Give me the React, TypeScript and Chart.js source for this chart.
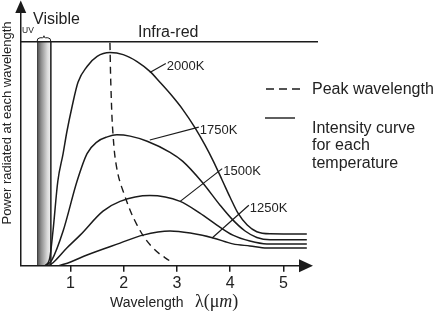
import React, { useEffect, useRef } from 'react';
import { Chart, registerables } from 'chart.js';

Chart.register(...registerables);

// ---- data (wavelength in µm, power in arbitrary units 0..100) ----
const xTickValues = [1, 2, 3, 4, 5];
const xTickLabels = ['1', '2', '3', '4', '5'];
const temperatures = ['2000K', '1750K', '1500K', '1250K'];

const wl2000 = [0.52, 0.61, 0.67, 0.76, 0.86, 0.93, 1.03, 1.14, 1.31, 1.5, 1.74, 1.99, 2.25, 2.49, 2.68, 2.87, 3.11, 3.34, 3.53, 3.68, 3.85, 4.0, 4.15, 4.32, 4.5, 4.75, 5.44];
const pw2000 = [0, 3.1, 13.5, 32.7, 43.5, 51.9, 61.9, 71.2, 77.3, 81.2, 82.7, 81.9, 79.2, 75.4, 71.2, 66.8, 60.6, 53.5, 46.7, 40.7, 33.2, 26.5, 20.3, 15.8, 13.2, 12.4, 12.3];

const wl1750 = [0.54, 0.65, 0.86, 1.12, 1.31, 1.5, 1.69, 1.87, 2.12, 2.44, 2.87, 3.11, 3.47, 3.81, 4.03, 4.28, 4.5, 4.75, 5.44];
const pw1750 = [0, 2.3, 13.5, 32.7, 43.5, 48.1, 50.0, 50.8, 50.3, 48.3, 44.0, 40.5, 32.5, 23.5, 18.2, 13.5, 11.0, 10.1, 10.1];

const wl1500 = [0.58, 0.67, 0.93, 1.18, 1.61, 1.93, 2.49, 3.06, 3.43, 3.75, 4.05, 4.37, 4.69, 5.44];
const pw1500 = [0, 1.2, 6.9, 11.9, 21.2, 25.0, 27.3, 25.0, 20.4, 15.8, 11.9, 9.6, 8.5, 8.5];

const wl1250 = [0.78, 1.0, 1.31, 1.93, 2.36, 2.87, 3.25, 3.68, 4.05, 4.37, 4.69, 5.44];
const pw1250 = [0, 1.5, 4.2, 8.8, 11.9, 13.5, 12.7, 10.8, 8.5, 7.7, 6.9, 6.9];

const peakWl = [1.74, 1.76, 1.8, 1.87, 1.99, 2.25, 2.55, 2.91];
const peakPw = [86.5, 68.5, 50.4, 37.7, 28.8, 15.8, 6.9, 1.2];

const infraRedLevel = 86.9;
const infraRedSpan = [0.05, 5.65];
const visibleBand = [0.37, 0.63];

// leader lines for temperature labels (data units)
const leaderStartWl = [2.49, 2.49, 3.06, 3.66];
const leaderStartPw = [75.0, 48.8, 25.0, 10.8];
const leaderEndWl = [2.79, 3.41, 3.85, 4.35];
const leaderEndPw = [78.5, 53.8, 37.7, 23.5];

const SANS = "'Liberation Sans', Arial, Helvetica, sans-serif";
const SERIF = "'Liberation Serif', 'Times New Roman', serif";
const INK = '#1b1b1b';

const toPts = (xs: number[], ys: number[]) => xs.map((v, i) => ({ x: v, y: ys[i] }));

const decor = {
  id: 'decor',
  beforeDatasetsDraw(chart: any) {
    const { ctx } = chart;
    const { x, y } = chart.scales;
    const x0 = x.getPixelForValue(visibleBand[0]);
    const x1 = x.getPixelForValue(visibleBand[1]);
    const yTop = y.getPixelForValue(infraRedLevel);
    const yBot = y.getPixelForValue(0);
    ctx.save();
    const g = ctx.createLinearGradient(x0, 0, x1, 0);
    g.addColorStop(0, '#4a4a4a');
    g.addColorStop(0.3, '#8e8e8e');
    g.addColorStop(0.75, '#dadada');
    g.addColorStop(1, '#f2f2f2');
    ctx.fillStyle = g;
    ctx.fillRect(x0, yTop, x1 - x0, yBot - yTop);
    ctx.strokeStyle = '#444';
    ctx.lineWidth = 1;
    ctx.beginPath();
    ctx.moveTo(x0 + 0.5, yTop);
    ctx.lineTo(x0 + 0.5, yBot);
    ctx.stroke();
    ctx.strokeStyle = INK;
    ctx.lineWidth = 1.5;
    ctx.beginPath();
    ctx.moveTo(x1, yTop);
    ctx.lineTo(x1, yBot);
    ctx.stroke();
    ctx.restore();
  },
  afterDraw(chart: any) {
    const { ctx, chartArea: ca } = chart;
    const { x, y } = chart.scales;
    ctx.save();
    ctx.strokeStyle = INK;
    ctx.fillStyle = INK;
    ctx.lineWidth = 1.5;
    // y axis with arrow
    const ax = ca.left + 0.75;
    ctx.beginPath();
    ctx.moveTo(ax, ca.bottom);
    ctx.lineTo(ax, 10);
    ctx.stroke();
    ctx.beginPath();
    ctx.moveTo(ax, 0.5);
    ctx.lineTo(ax - 5.5, 13);
    ctx.lineTo(ax + 5.5, 13);
    ctx.closePath();
    ctx.fill();
    // x axis with arrow
    const ay = ca.bottom;
    ctx.beginPath();
    ctx.moveTo(ca.left, ay);
    ctx.lineTo(302, ay);
    ctx.stroke();
    ctx.beginPath();
    ctx.moveTo(313, ay);
    ctx.lineTo(299, ay - 6.5);
    ctx.lineTo(299, ay + 6.5);
    ctx.closePath();
    ctx.fill();

    // brace over visible band
    const bx0 = x.getPixelForValue(visibleBand[0]);
    const bx1 = x.getPixelForValue(visibleBand[1]);
    const by = y.getPixelForValue(infraRedLevel);
    const bm = (bx0 + bx1) / 2;
    ctx.lineWidth = 1;
    ctx.beginPath();
    ctx.moveTo(bx0, by);
    ctx.quadraticCurveTo(bx0, by - 4, bx0 + 3, by - 4);
    ctx.lineTo(bm - 1.5, by - 4);
    ctx.quadraticCurveTo(bm, by - 4, bm, by - 6);
    ctx.quadraticCurveTo(bm, by - 4, bm + 1.5, by - 4);
    ctx.lineTo(bx1 - 3, by - 4);
    ctx.quadraticCurveTo(bx1, by - 4, bx1, by);
    ctx.stroke();

    // region labels
    ctx.fillStyle = '#222';
    ctx.textBaseline = 'alphabetic';
    ctx.textAlign = 'left';
    ctx.font = `16px ${SANS}`;
    ctx.fillText('Visible', 33, 24);
    ctx.fillText('Infra-red', 138, 37);
    ctx.font = `8.5px ${SANS}`;
    ctx.fillText('UV', 22, 33);

    // temperature labels with leaders
    ctx.strokeStyle = INK;
    ctx.lineWidth = 1.2;
    ctx.font = `13px ${SANS}`;
    temperatures.forEach((t, i) => {
      const sx = x.getPixelForValue(leaderStartWl[i]);
      const sy = y.getPixelForValue(leaderStartPw[i]);
      const ex = x.getPixelForValue(leaderEndWl[i]);
      const ey = y.getPixelForValue(leaderEndPw[i]);
      ctx.beginPath();
      ctx.moveTo(sx, sy);
      ctx.lineTo(ex, ey);
      ctx.stroke();
      ctx.fillText(t, ex + 1, ey + 6.5);
    });

    // legend
    ctx.lineWidth = 1.4;
    ctx.setLineDash([8, 5]);
    ctx.beginPath();
    ctx.moveTo(266, 89);
    ctx.lineTo(300, 89);
    ctx.stroke();
    ctx.setLineDash([]);
    ctx.beginPath();
    ctx.moveTo(265, 118);
    ctx.lineTo(295, 118);
    ctx.stroke();
    ctx.font = `16px ${SANS}`;
    ctx.fillText('Peak wavelength', 312, 93.5);
    ctx.fillText('Intensity curve', 312, 132.5);
    ctx.fillText('for each', 312, 150);
    ctx.fillText('temperature', 312, 167.5);

    // x title with mixed fonts
    ctx.font = `14px ${SANS}`;
    ctx.fillText('Wavelength', 110, 307);
    let tx = 195;
    const part = (s: string, f: string) => {
      ctx.font = f;
      ctx.fillText(s, tx, 307);
      tx += ctx.measureText(s).width;
    };
    part('λ(μ', `18px ${SERIF}`);
    part('m', `italic 18px ${SERIF}`);
    part(')', `18px ${SERIF}`);

    // y title
    ctx.save();
    ctx.translate(10.5, 123);
    ctx.rotate(-Math.PI / 2);
    ctx.textAlign = 'center';
    ctx.font = `13px ${SANS}`;
    ctx.fillText('Power radiated at each wavelength', 0, 0);
    ctx.restore();

    ctx.restore();
  },
};

export default function App() {
  const ref = useRef<HTMLCanvasElement>(null);
  useEffect(() => {
    document.body.style.margin = '0';
    const curve = (label: string, xs: number[], ys: number[]) => ({
      label,
      data: toPts(xs, ys),
      borderColor: INK,
      borderWidth: 1.5,
      pointRadius: 0,
      fill: false,
      cubicInterpolationMode: 'monotone' as const,
    });
    const chart = new Chart(ref.current as HTMLCanvasElement, {
      type: 'line',
      data: {
        datasets: [
          curve(temperatures[0], wl2000, pw2000),
          curve(temperatures[1], wl1750, pw1750),
          curve(temperatures[2], wl1500, pw1500),
          curve(temperatures[3], wl1250, pw1250),
          {
            label: 'Peak wavelength',
            data: toPts(peakWl, peakPw),
            borderColor: INK,
            borderWidth: 1.4,
            borderDash: [7, 5],
            pointRadius: 0,
            tension: 0.4,
            fill: false,
          },
          {
            label: 'Infra-red',
            data: toPts(infraRedSpan, [infraRedLevel, infraRedLevel]),
            borderColor: INK,
            borderWidth: 1.5,
            pointRadius: 0,
            fill: false,
            clip: false as any,
          },
        ],
      },
      options: {
        responsive: false,
        animation: false,
        devicePixelRatio: 1,
        layout: { padding: { left: 20, top: 8, right: 119, bottom: 34 } },
        plugins: { legend: { display: false }, tooltip: { enabled: false } },
        scales: {
          x: {
            type: 'linear',
            min: 0.05,
            max: 5.65,
            afterBuildTicks: (s: any) => {
              s.ticks = xTickValues.map((v) => ({ value: v }));
            },
            border: { display: false },
            grid: { drawOnChartArea: false, drawTicks: true, tickLength: 6, color: INK, lineWidth: 1.5 },
            ticks: {
              padding: 2,
              color: '#222',
              font: { family: SANS, size: 16 },
              maxRotation: 0,
              autoSkip: false,
              callback: (v: any) => {
                const i = xTickValues.indexOf(Number(v));
                return i >= 0 ? xTickLabels[i] : '';
              },
            },
          },
          y: { type: 'linear', min: 0, max: 100, display: false },
        },
      },
      plugins: [decor],
    } as any);
    return () => chart.destroy();
  }, []);
  return (
    <div style={{ width: 437, height: 329 }}>
      <canvas ref={ref} width={437} height={329} style={{ display: 'block' }} />
    </div>
  );
}
